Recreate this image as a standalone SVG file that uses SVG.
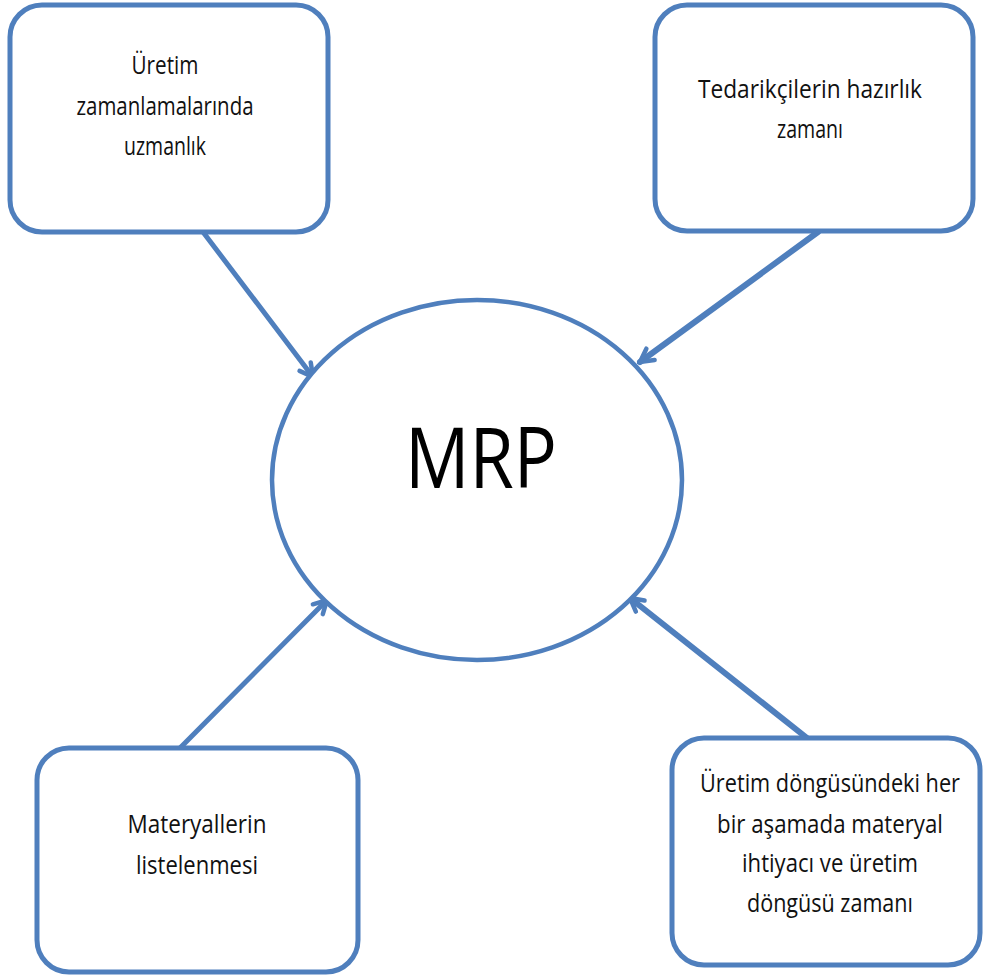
<svg xmlns="http://www.w3.org/2000/svg" width="983" height="975" viewBox="0 0 983 975">
  <style>
    .box { fill: #ffffff; stroke: #4f7fbd; stroke-width: 5; }
    .hub { fill: #ffffff; stroke: #4f7fbd; stroke-width: 4.5; }
    .lbl { font-family: "Open Sans", "Noto Sans", sans-serif; font-size: 25px; fill: #111111; text-anchor: middle; }
    .big { font-family: "Open Sans", "Noto Sans", sans-serif; font-size: 84px; fill: #000000; text-anchor: middle; }
    .link { stroke: #4f7fbd; stroke-width: 5; fill: none; stroke-linecap: round; }
    .thick { stroke-width: 6; }
  </style>
  <defs>
    <marker id="head" markerUnits="userSpaceOnUse" viewBox="0 0 20 20" markerWidth="20" markerHeight="20" refX="17" refY="10" orient="auto">
      <path d="M4,3 L17,10 L4,17" fill="none" stroke="#4f7fbd" stroke-width="4.5" stroke-linecap="round" stroke-linejoin="miter"/>
    </marker>
  </defs>
  <rect width="983" height="975" fill="#ffffff"/>

  <g id="connectors">
    <line class="link" x1="203" y1="232" x2="313" y2="377" marker-end="url(#head)"/>
    <line class="link thick" x1="818" y1="232" x2="640" y2="362" marker-end="url(#head)"/>
    <line class="link" x1="180" y1="748" x2="327" y2="600" marker-end="url(#head)"/>
    <line class="link thick" x1="807" y1="738" x2="630" y2="598" marker-end="url(#head)"/>
  </g>

  <g id="mrp">
    <ellipse class="hub" cx="477" cy="480" rx="205" ry="180"/>
    <text class="big" x="481" y="488" textLength="152" lengthAdjust="spacingAndGlyphs">MRP</text>
  </g>

  <g id="uzmanlik">
    <rect class="box" x="10" y="5" width="318" height="227" rx="32"/>
    <text class="lbl" x="165" y="74" textLength="67" lengthAdjust="spacingAndGlyphs">Üretim</text>
    <text class="lbl" x="165" y="115" textLength="177" lengthAdjust="spacingAndGlyphs">zamanlamalarında</text>
    <text class="lbl" x="165" y="155" textLength="82" lengthAdjust="spacingAndGlyphs">uzmanlık</text>
  </g>

  <g id="tedarik">
    <rect class="box" x="655" y="5" width="318" height="226" rx="32"/>
    <text class="lbl" x="810" y="98" textLength="224" lengthAdjust="spacingAndGlyphs">Tedarikçilerin hazırlık</text>
    <text class="lbl" x="810" y="138" textLength="66" lengthAdjust="spacingAndGlyphs">zamanı</text>
  </g>

  <g id="materyal">
    <rect class="box" x="37" y="748" width="321" height="224" rx="32"/>
    <text class="lbl" x="197" y="833" textLength="139" lengthAdjust="spacingAndGlyphs">Materyallerin</text>
    <text class="lbl" x="197" y="874" textLength="122" lengthAdjust="spacingAndGlyphs">listelenmesi</text>
  </g>

  <g id="dongu">
    <rect class="box" x="672" y="738" width="308" height="227" rx="32"/>
    <text class="lbl" x="830" y="792" textLength="260" lengthAdjust="spacingAndGlyphs">Üretim döngüsündeki her</text>
    <text class="lbl" x="830" y="833" textLength="226" lengthAdjust="spacingAndGlyphs">bir aşamada materyal</text>
    <text class="lbl" x="830" y="872" textLength="176" lengthAdjust="spacingAndGlyphs">ihtiyacı ve üretim</text>
    <text class="lbl" x="830" y="912" textLength="166" lengthAdjust="spacingAndGlyphs">döngüsü zamanı</text>
  </g>
</svg>
